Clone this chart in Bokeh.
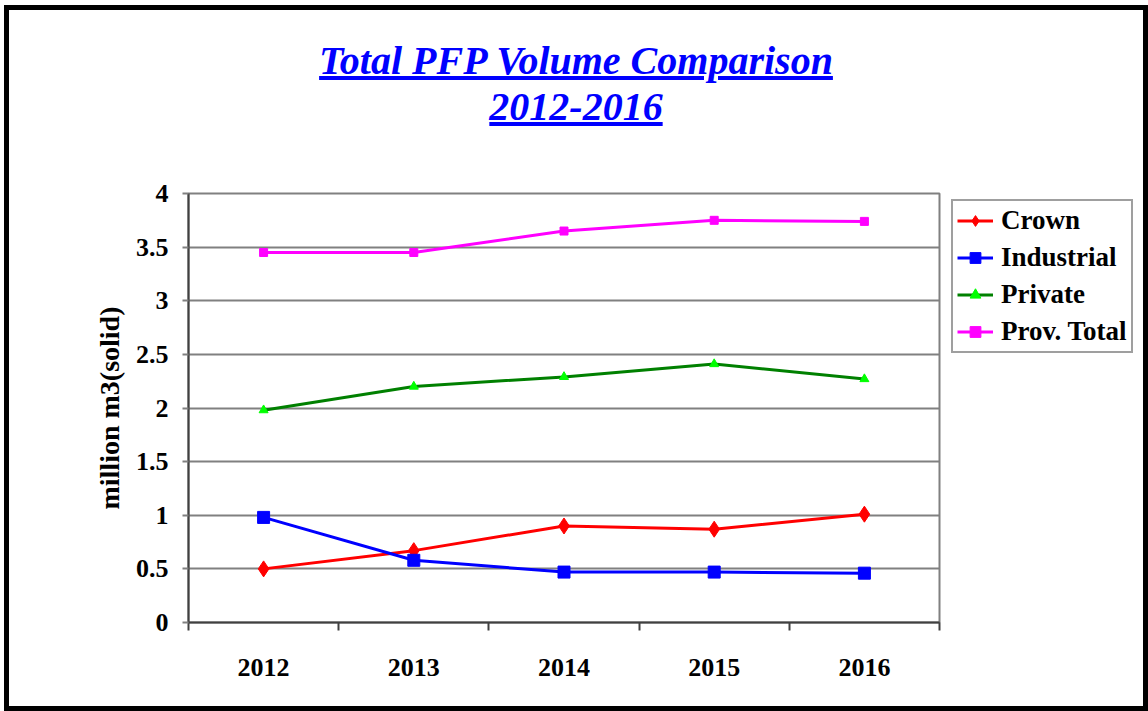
from bokeh.plotting import figure
from bokeh.models import (Range1d, FixedTicker, Legend, LegendItem, Div, Column, Row)
from bokeh.embed import file_html
from bokeh.resources import INLINE

# ---- data ----
years = [2012, 2013, 2014, 2015, 2016]
crown = [0.50, 0.67, 0.90, 0.87, 1.01]
industrial = [0.98, 0.58, 0.47, 0.47, 0.46]
private = [1.98, 2.20, 2.29, 2.41, 2.27]
prov_total = [3.45, 3.45, 3.65, 3.75, 3.74]
y_ticks = [0, 0.5, 1, 1.5, 2, 2.5, 3, 3.5, 4]
series_names = ["Crown", "Industrial", "Private", "Prov. Total"]
title_lines = ["Total PFP Volume Comparison", "2012-2016"]
y_label = "million m3(solid)"

FONT = "Liberation Serif"
CONTENT_W = 1134
DIV_H = 135
FIG_H = 561
MAIN_W = 936
LEG_W = CONTENT_W - MAIN_W

series_styles = [
    dict(line_color="#FF0000", marker="diamond", size=16, mcolor="#FF0000"),
    dict(line_color="#0000FF", marker="square", size=12, mcolor="#0000FF"),
    dict(line_color="#008000", marker="triangle", size=9, mcolor="#00FF00"),
    dict(line_color="#FF00FF", marker="square", size=8, mcolor="#FF00FF"),
]
series_values = [crown, industrial, private, prov_total]

title_div = Div(
    text=('<div style="width:%dpx; text-align:center; padding-top:28px; '
          'font-family:\'Liberation Serif\', serif; font-size:40px; line-height:46px; '
          'font-weight:bold; font-style:italic; color:#0000FF; text-decoration:underline;">'
          % CONTENT_W + "<br>".join(title_lines) + '</div>'),
    width=CONTENT_W, height=DIV_H, margin=0,
)

p = figure(width=MAIN_W, height=FIG_H, output_backend="svg", toolbar_location=None,
           x_range=Range1d(years[0] - 0.5, years[-1] + 0.5), y_range=Range1d(0, 4),
           min_border_left=179, min_border_right=6, min_border_top=48, min_border_bottom=84,
           background_fill_color="white", border_fill_color="white", margin=0)

p.outline_line_color = "#808080"
p.outline_line_width = 2

boundaries = [y - 0.5 for y in years] + [years[-1] + 0.5]
p.xaxis.ticker = FixedTicker(ticks=years, minor_ticks=boundaries)
p.xaxis.major_tick_line_color = None
p.xaxis.major_tick_out = 0
p.xaxis.major_tick_in = 0
p.xaxis.minor_tick_out = 8
p.xaxis.minor_tick_in = 0
p.xaxis.minor_tick_line_color = "#404040"
p.xaxis.minor_tick_line_width = 2
p.xaxis.major_label_standoff = 28
p.xaxis.major_label_overrides = {y: str(y) for y in years}

p.yaxis.ticker = FixedTicker(ticks=y_ticks)
p.yaxis.major_label_overrides = {t: f"{t:g}" for t in y_ticks}
p.yaxis.major_tick_out = 6
p.yaxis.major_tick_in = 0
p.yaxis.major_tick_line_color = "#808080"
p.yaxis.major_tick_line_width = 2
p.yaxis.minor_tick_line_color = None
p.yaxis.major_label_standoff = 14
p.yaxis.axis_label = y_label
p.yaxis.axis_label_text_font = FONT
p.yaxis.axis_label_text_font_style = "bold"
p.yaxis.axis_label_text_font_size = "28px"
p.yaxis.axis_label_text_color = "black"
p.yaxis.axis_label_standoff = 8

for ax in (p.xaxis, p.yaxis):
    ax.axis_line_color = "#404040"
    ax.axis_line_width = 2
    ax.major_label_text_font = FONT
    ax.major_label_text_font_style = "bold"
    ax.major_label_text_font_size = "26px"
    ax.major_label_text_color = "black"

p.xgrid.grid_line_color = None
p.ygrid.grid_line_color = "#808080"
p.ygrid.grid_line_width = 2

for vals, st in zip(series_values, series_styles):
    p.line(years, vals, line_color=st["line_color"], line_width=3)
    p.scatter(years, vals, marker=st["marker"], size=st["size"],
              fill_color=st["mcolor"], line_color=st["mcolor"])

# ---- legend panel (separate figure next to the chart) ----
lf = figure(width=LEG_W, height=FIG_H, output_backend="svg", toolbar_location=None,
            x_range=Range1d(0, 1), y_range=Range1d(0, 1),
            x_axis_location=None, y_axis_location=None,
            min_border_left=0, min_border_right=0, min_border_top=34, min_border_bottom=0,
            background_fill_color="white", border_fill_color="white", margin=0)
lf.outline_line_color = None
lf.xgrid.grid_line_color = None
lf.ygrid.grid_line_color = None

items = []
for name, vals, st in zip(series_names, series_values, series_styles):
    lr = lf.line(years, vals, line_color=st["line_color"], line_width=3)
    sr = lf.scatter(years, vals, marker=st["marker"], size=min(st["size"], 12),
                    fill_color=st["mcolor"], line_color=st["mcolor"])
    items.append(LegendItem(label=name, renderers=[lr, sr]))

legend = Legend(items=items, location="top_left")
legend.label_text_font = FONT
legend.label_text_font_style = "bold"
legend.label_text_font_size = "27px"
legend.label_text_color = "black"
legend.label_height = 27
legend.glyph_height = 27
legend.glyph_width = 36
legend.label_standoff = 8
legend.spacing = 6
legend.padding = 4
legend.margin = 6
legend.border_line_color = "#404040"
legend.border_line_width = 2
legend.background_fill_color = "white"
lf.add_layout(legend)

layout = Column(title_div, Row(p, lf, spacing=0, margin=0),
                width=CONTENT_W + 10, height=DIV_H + FIG_H + 10, spacing=0, margin=(5, 0, 0, 4),
                styles={"border": "5px solid black", "background": "white"})

open("out.html", "w").write(file_html(layout, INLINE))
